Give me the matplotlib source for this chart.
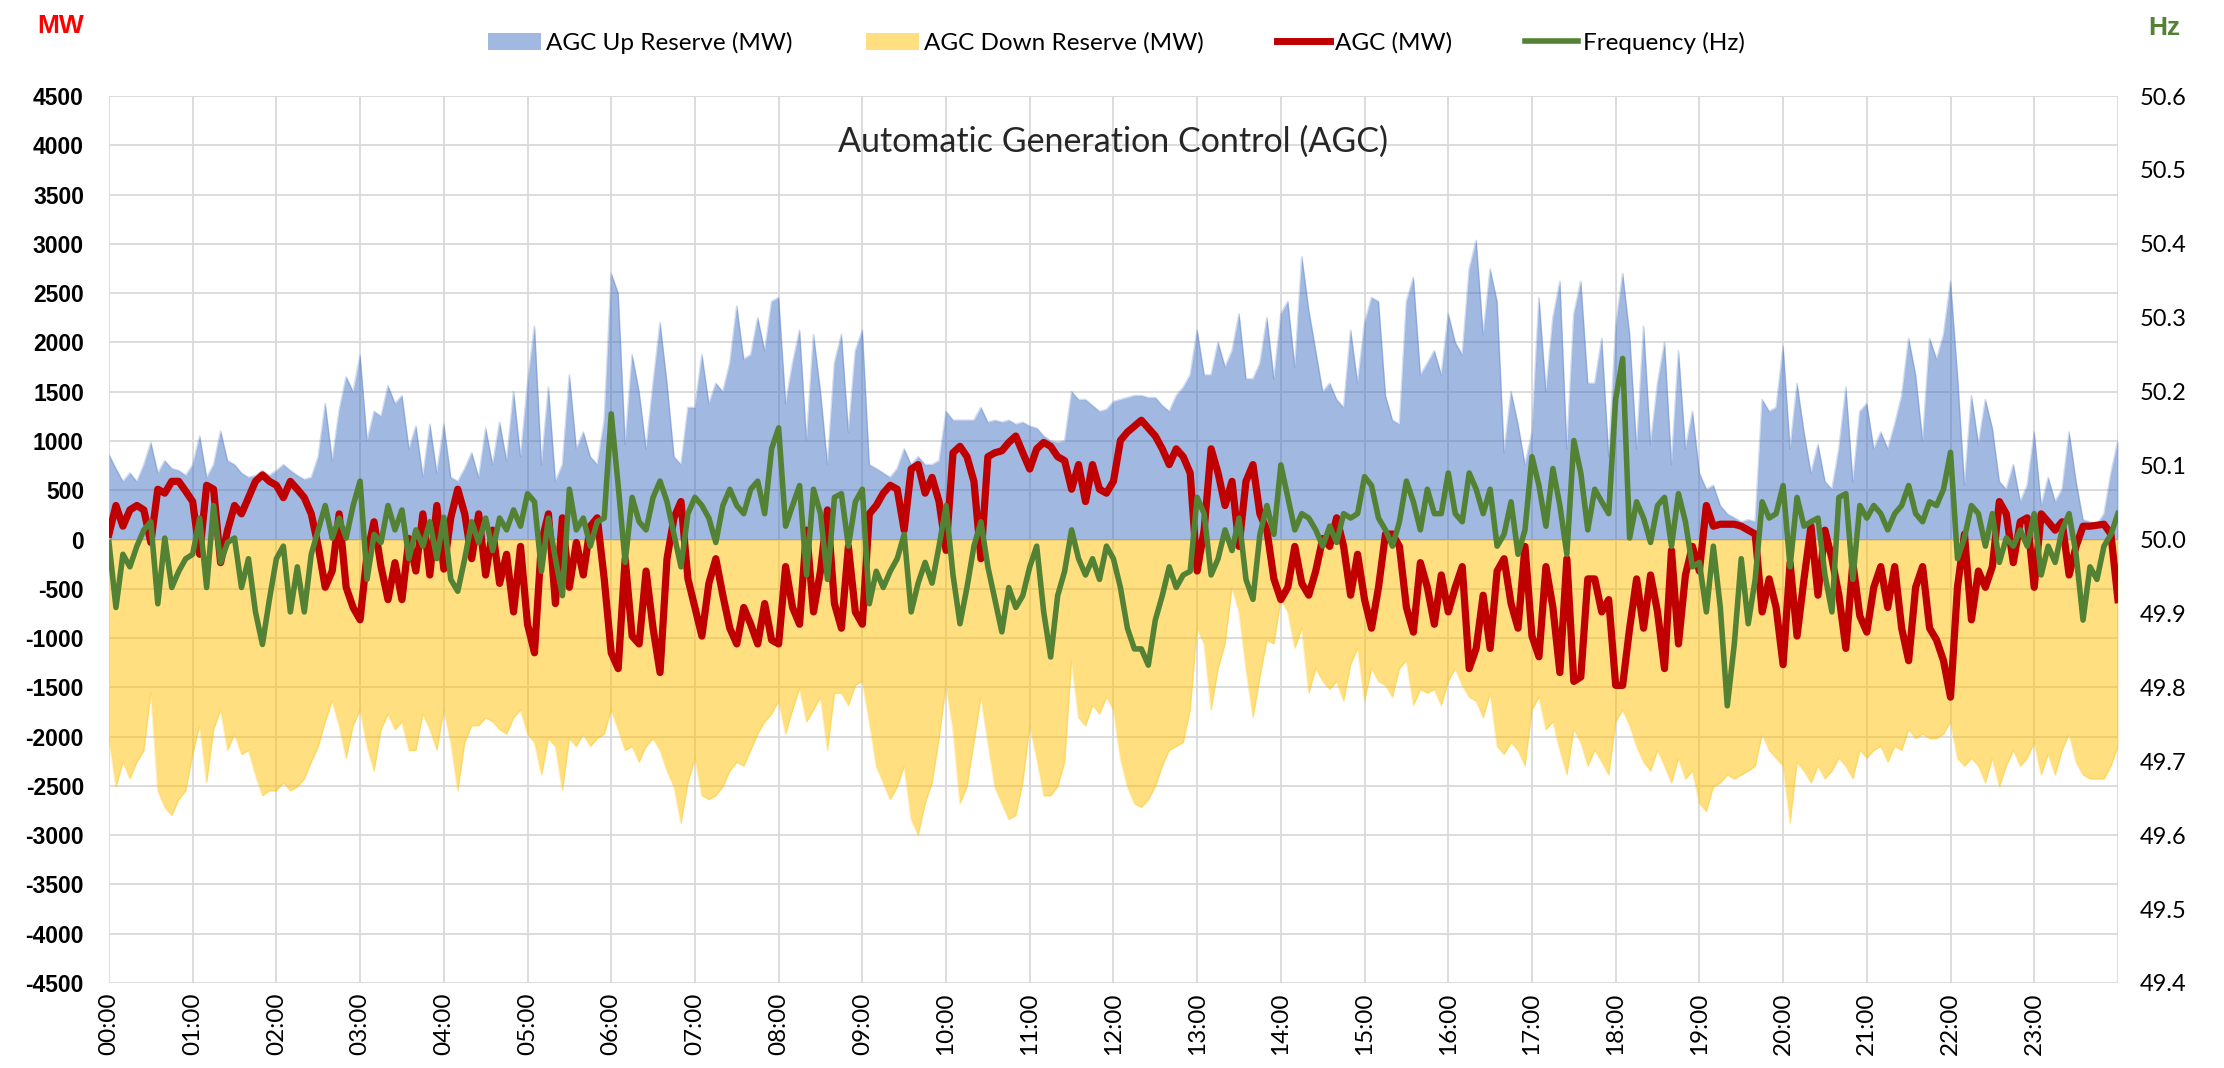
import numpy as np
import matplotlib
matplotlib.use('Agg')
import matplotlib.pyplot as plt
from matplotlib.patches import Patch
from matplotlib.lines import Line2D

# 5-minute samples over one day (00:00 .. 24:00)
minutes = np.arange(0, 24 * 60 + 1, 5)
hours = minutes / 60

up_reserve = [
    860, 720, 590, 675, 590, 760, 985, 675, 800, 720, 700, 650,
    760, 1050, 630, 760, 1100, 800, 760, 675, 630, 650, 700, 650,
    700, 760, 700, 650, 610, 630, 840, 1380, 800, 1310, 1650, 1500,
    1870, 1000, 1300, 1250, 1560, 1380, 1460, 920, 1150, 640, 1170, 675,
    1170, 630, 590, 720, 880, 630, 1130, 760, 1190, 800, 1500, 840,
    1585, 2165, 760, 1545, 590, 760, 1670, 920, 1090, 840, 760, 1210,
    2700, 2500, 965, 1875, 1500, 920, 1585, 2200, 1585, 840, 760, 1340,
    1340, 1875, 1380, 1585, 1500, 1790, 2370, 1830, 1875, 2250, 1915, 2415,
    2455, 1380, 1790, 2125, 1000, 2080, 1500, 760, 1790, 2080, 1090, 1915,
    2125, 760, 720, 675, 630, 720, 920, 760, 840, 760, 760, 800,
    1300, 1210, 1210, 1210, 1210, 1340, 1190, 1210, 1190, 1210, 1170, 1190,
    1150, 1130, 1050, 1000, 985, 1000, 1500, 1420, 1420, 1360, 1300, 1320,
    1400, 1420, 1440, 1460, 1460, 1440, 1440, 1360, 1300, 1460, 1545, 1670,
    2125, 1670, 1670, 2000, 1750, 1915, 2290, 1630, 1630, 1790, 2250, 1630,
    2290, 2415, 1750, 2870, 2330, 1915, 1500, 1585, 1420, 1340, 2125, 1585,
    2200, 2455, 2415, 1460, 1210, 1170, 2415, 2660, 1670, 1790, 1915, 1670,
    2290, 2000, 1875, 2745, 3035, 2080, 2745, 2415, 880, 1500, 1170, 760,
    1090, 2455, 1500, 2250, 2620, 920, 2290, 2620, 1585, 1585, 2040, 840,
    2165, 2700, 2080, 920, 2165, 965, 1585, 2000, 760, 1915, 920, 1300,
    675, 510, 550, 345, 260, 220, 180, 200, 180, 1420, 1300, 1340,
    1960, 920, 1585, 1090, 675, 965, 590, 510, 920, 1545, 590, 1300,
    1380, 920, 1090, 920, 1170, 1460, 2040, 1670, 1000, 2040, 1830, 2080,
    2620, 1670, 550, 1460, 965, 1420, 1130, 590, 510, 760, 385, 550,
    1090, 345, 630, 385, 510, 1090, 590, 200, 180, 155, 260, 675,
    1005,
]

down_reserve = [
    -2020, -2510, -2260, -2430, -2260, -2140, -1560, -2550, -2720, -2800, -2640, -2550,
    -2180, -1890, -2470, -1930, -1730, -2140, -1975, -2180, -2140, -2390, -2600, -2550,
    -2550, -2470, -2550, -2510, -2430, -2260, -2100, -1850, -1640, -1890, -2220, -1890,
    -1730, -2100, -2350, -1930, -1770, -1930, -1850, -2140, -2140, -1770, -1930, -2140,
    -1730, -2060, -2550, -2060, -1890, -1890, -1810, -1850, -1930, -1975, -1810, -1730,
    -1975, -2060, -2390, -2020, -2100, -2550, -2020, -2100, -1975, -2100, -2020, -1975,
    -1730, -1930, -2140, -2100, -2260, -2100, -2020, -2140, -2350, -2510, -2880, -2470,
    -2220, -2600, -2640, -2600, -2510, -2350, -2260, -2300, -2140, -1975, -1850, -1770,
    -1640, -1975, -1730, -1510, -1850, -1730, -1600, -2140, -1560, -1560, -1685, -1480,
    -1440, -1850, -2300, -2470, -2640, -2510, -2300, -2840, -3000, -2680, -2470, -2020,
    -1480, -1930, -2680, -2510, -2060, -1600, -2060, -2510, -2680, -2840, -2800, -2470,
    -1890, -2220, -2600, -2600, -2510, -2260, -1230, -1810, -1890, -1685, -1770, -1600,
    -1730, -2220, -2510, -2680, -2720, -2640, -2510, -2300, -2140, -2100, -2060, -1730,
    -900, -1060, -1730, -1310, -1060, -485, -735, -1310, -1810, -1395, -1020, -1060,
    -610, -735, -1105, -900, -1560, -1310, -1440, -1520, -1440, -1640, -1270, -1105,
    -1640, -1310, -1440, -1480, -1600, -1310, -1230, -1685, -1520, -1560, -1520, -1685,
    -1440, -1310, -1480, -1600, -1640, -1810, -1560, -2100, -2180, -2060, -2140, -2300,
    -1730, -1600, -1930, -1850, -2140, -2390, -1930, -2060, -2300, -2140, -2260, -2390,
    -1850, -1730, -1890, -2100, -2260, -2350, -2140, -2300, -2470, -2220, -2430, -2350,
    -2680, -2760, -2510, -2470, -2390, -2430, -2390, -2350, -2300, -1975, -2140, -2220,
    -2300, -2880, -2260, -2350, -2470, -2300, -2430, -2350, -2220, -2300, -2430, -2140,
    -2220, -2140, -2100, -2260, -2100, -2140, -1930, -2020, -1975, -2020, -2020, -1975,
    -1850, -2220, -2300, -2220, -2300, -2470, -2220, -2510, -2300, -2140, -2300, -2220,
    -2060, -2390, -2180, -2390, -2140, -1975, -2260, -2390, -2430, -2430, -2430, -2300,
    -2100,
]

agc = [
    55, 345, 135, 300, 345, 300, -30, 510, 470, 590, 590, 490,
    385, -150, 550, 510, -235, 95, 345, 260, 425, 590, 655, 590,
    550, 425, 590, 510, 425, 260, -70, -485, -320, 260, -485, -690,
    -815, -150, 180, -275, -610, -235, -610, 10, -320, 260, -360, 345,
    -300, 220, 510, 260, -195, 260, -360, 95, -445, -150, -735, -70,
    -860, -1150, -30, 260, -650, 220, -485, -30, -360, 135, 220, -400,
    -1150, -1310, -195, -980, -1060, -320, -900, -1350, -195, 220, 385, -400,
    -690, -980, -445, -195, -565, -900, -1060, -690, -860, -1060, -650, -1020,
    -1060, -275, -690, -860, 95, -735, -320, 300, -650, -900, -70, -735,
    -860, 260, 345, 470, 550, 510, 95, 715, 760, 470, 630, 385,
    -110, 880, 945, 840, 590, -195, 840, 880, 900, 985, 1050, 880,
    715, 920, 985, 945, 840, 800, 510, 760, 385, 760, 510, 470,
    590, 1005, 1090, 1150, 1210, 1130, 1050, 920, 760, 920, 840, 675,
    -320, 95, 920, 675, 345, 590, -70, 590, 760, 260, 95, -400,
    -610, -485, -70, -445, -565, -320, 10, -70, 220, -70, -565, -150,
    -610, -900, -485, 55, 55, -70, -690, -940, -235, -485, -860, -360,
    -735, -485, -275, -1310, -1105, -565, -1105, -320, -195, -650, -900, -70,
    -980, -1190, -275, -690, -1350, -195, -1440, -1395, -400, -400, -735, -610,
    -1480, -1480, -900, -400, -900, -360, -735, -1310, -110, -1060, -360, -70,
    -320, 345, 135, 155, 155, 155, 135, 95, 55, -735, -400, -690,
    -1270, -235, -980, -400, 135, -565, 95, -195, -565, -1105, -235, -775,
    -940, -485, -275, -690, -275, -900, -1230, -485, -275, -900, -1020, -1230,
    -1600, -485, 55, -815, -320, -485, -275, 385, 260, -235, 180, 220,
    -485, 260, 180, 95, 180, -360, -70, 135, 135, 145, 155, 55,
    -610,
]

frequency = [
    49.996, 49.908, 49.980, 49.963, 49.991, 50.013, 50.024, 49.913, 50.002, 49.935, 49.957, 49.974,
    49.980, 50.029, 49.935, 50.046, 49.969, 49.996, 50.002, 49.935, 49.974, 49.902, 49.858, 49.919,
    49.974, 49.991, 49.902, 49.963, 49.902, 49.980, 50.013, 50.046, 50.002, 50.029, 50.002, 50.046,
    50.079, 49.946, 50.007, 49.996, 50.046, 50.013, 50.040, 49.974, 50.013, 49.991, 50.024, 49.974,
    50.030, 49.946, 49.930, 49.974, 50.024, 49.996, 50.029, 49.985, 50.029, 50.013, 50.040, 50.018,
    50.062, 50.051, 49.957, 50.029, 49.974, 49.924, 50.068, 50.013, 50.029, 49.991, 50.024, 50.029,
    50.170, 50.073, 49.969, 50.057, 50.024, 50.013, 50.057, 50.079, 50.051, 50.007, 49.963, 50.035,
    50.057, 50.046, 50.029, 49.996, 50.046, 50.068, 50.046, 50.035, 50.068, 50.079, 50.035, 50.123,
    50.151, 50.018, 50.046, 50.073, 49.952, 50.068, 50.035, 49.946, 50.057, 50.062, 49.991, 50.051,
    50.068, 49.913, 49.957, 49.935, 49.957, 49.974, 50.007, 49.902, 49.941, 49.969, 49.941, 49.991,
    50.046, 49.952, 49.886, 49.935, 49.991, 50.024, 49.963, 49.919, 49.875, 49.935, 49.908, 49.924,
    49.963, 49.991, 49.902, 49.841, 49.924, 49.957, 50.013, 49.974, 49.952, 49.974, 49.946, 49.991,
    49.974, 49.935, 49.880, 49.852, 49.852, 49.830, 49.891, 49.924, 49.963, 49.935, 49.952, 49.957,
    50.057, 50.035, 49.952, 49.974, 50.013, 49.985, 50.029, 49.946, 49.919, 50.007, 50.046, 50.007,
    50.101, 50.057, 50.013, 50.035, 50.029, 50.013, 49.991, 50.018, 49.996, 50.035, 50.029, 50.035,
    50.085, 50.073, 50.029, 50.013, 49.991, 50.024, 50.079, 50.051, 50.013, 50.068, 50.035, 50.035,
    50.090, 50.035, 50.024, 50.090, 50.068, 50.035, 50.068, 49.991, 50.007, 50.051, 49.980, 50.013,
    50.112, 50.073, 50.018, 50.096, 50.046, 49.980, 50.134, 50.090, 50.013, 50.068, 50.051, 50.035,
    50.190, 50.245, 50.002, 50.051, 50.029, 49.996, 50.046, 50.057, 49.991, 50.062, 50.024, 49.963,
    49.969, 49.902, 49.991, 49.908, 49.775, 49.858, 49.974, 49.886, 49.946, 50.051, 50.029, 50.035,
    50.073, 49.963, 50.057, 50.018, 50.024, 50.029, 49.952, 49.902, 50.057, 50.062, 49.946, 50.046,
    50.029, 50.046, 50.035, 50.013, 50.035, 50.046, 50.073, 50.035, 50.024, 50.051, 50.046, 50.068,
    50.118, 49.974, 50.002, 50.046, 50.035, 49.991, 50.035, 49.969, 50.002, 49.991, 50.013, 49.991,
    50.035, 49.952, 49.991, 49.969, 50.013, 50.035, 49.980, 49.891, 49.963, 49.946, 49.991, 50.007,
    50.035,
]

hour_labels = ['%02d:00' % h for h in range(24)]

plt.rcParams['font.family'] = ['Lato', 'DejaVu Sans']
bold_family = 'Liberation Sans'   # has a real bold face

blue = '#4472C4'
yellow = '#FFC000'
red = '#C00000'
green = '#548235'

fig = plt.figure(figsize=(22.24, 10.68), dpi=100)
ax = fig.add_axes([0.049, 0.0796, 0.9033, 0.8305])

ax.fill_between(hours, 0, up_reserve, color=blue, alpha=0.5, lw=0, zorder=2)
ax.plot(hours, up_reserve, color=blue, alpha=0.25, lw=1.2, zorder=2)
ax.fill_between(hours, 0, down_reserve, color=yellow, alpha=0.5, lw=0, zorder=2)
ax.plot(hours, down_reserve, color=yellow, alpha=0.25, lw=1.2, zorder=2)
ax.plot(hours, agc, color=red, lw=5.2, zorder=4, solid_joinstyle='round')

ax.set_xlim(0, 24)
ax.set_ylim(-4500, 4500)
ax.set_yticks(range(-4500, 4501, 500))
ax.set_yticklabels([str(v) for v in range(-4500, 4501, 500)],
                   fontsize=16.5, fontweight='bold', family=bold_family)
ax.set_xticks(range(25))
ax.set_xticklabels(hour_labels + [''], rotation=90, fontsize=17.5)
ax.tick_params(axis='both', length=0)
ax.tick_params(axis='x', pad=7)
ax.tick_params(axis='y', pad=18)
ax.grid(color='#D9D9D9', lw=1.3)
ax.set_axisbelow(True)
for s in ax.spines.values():
    s.set_visible(False)

ax2 = ax.twinx()
ax2.plot(hours, frequency, color=green, lw=4.0, zorder=5, solid_joinstyle='round')
ax2.set_ylim(49.4, 50.6)
hz_ticks = [49.4, 49.5, 49.6, 49.7, 49.8, 49.9, 50.0, 50.1, 50.2, 50.3, 50.4, 50.5, 50.6]
ax2.set_yticks(hz_ticks)
ax2.set_yticklabels(['%.1f' % v for v in hz_ticks], fontsize=17)
ax2.tick_params(axis='y', length=0, pad=16)
for s in ax2.spines.values():
    s.set_visible(False)

ax.text(0.5, 0.948, 'Automatic Generation Control (AGC)', transform=ax.transAxes,
        ha='center', va='center', fontsize=24.5, color='#262626', zorder=10)

fig.text(61 / 2224, 1 - 26 / 1068, 'MW', color='#FF0000', fontweight='bold',
         family=bold_family, fontsize=19, ha='center', va='center')
fig.text(2164 / 2224, 1 - 28 / 1068, 'Hz', color=green, fontweight='bold',
         family=bold_family, fontsize=19, ha='center', va='center')

handles = [
    Patch(facecolor=blue, alpha=0.5, edgecolor='none'),
    Patch(facecolor=yellow, alpha=0.5, edgecolor='none'),
    Line2D([0], [0], color=red, lw=5),
    Line2D([0], [0], color=green, lw=4),
]
labels = ['AGC Up Reserve (MW)', 'AGC Down Reserve (MW)', 'AGC (MW)', 'Frequency (Hz)']
fig.legend(handles, labels, loc='center', bbox_to_anchor=(0.502, 0.96), ncol=4,
           frameon=False, fontsize=17.5, handlelength=2.2, handletextpad=0.2,
           columnspacing=3.0)

fig.savefig('out.png', dpi=100)
